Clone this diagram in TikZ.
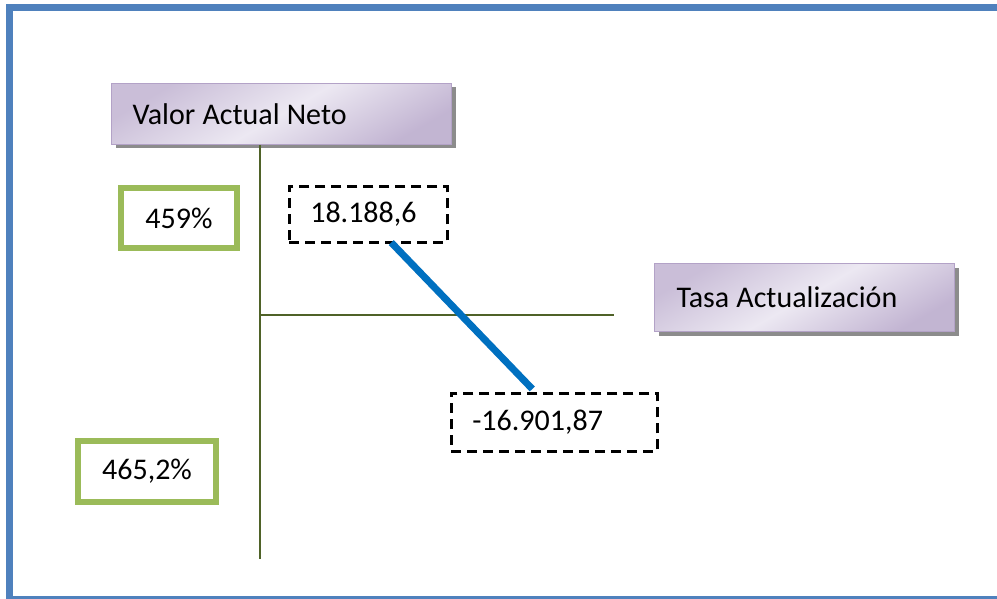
\documentclass[tikz,border=0pt]{standalone}
\usepackage{fontspec}
\setmainfont{Carlito}
\usetikzlibrary{positioning,shadows}

\definecolor{frameblue}{HTML}{4F81BD}
\definecolor{axisgreen}{HTML}{4F6228}
\definecolor{boxgreen}{HTML}{9BBB59}
\definecolor{lineblue}{HTML}{0070C0}
\definecolor{lilac}{HTML}{B3A2C7}
\definecolor{lilaclight}{HTML}{ECE8F2}

\tikzset{
    boxfont/.style={font=\fontsize{30}{34}\selectfont,
        execute at begin node={\spaceskip=0.24em\relax}},
    titlebox/.style={draw=lilac,line width=1pt,
        left color=lilac!70,right color=lilac!80,middle color=lilaclight,
        shading angle=30,
        drop shadow={shadow xshift=4pt,shadow yshift=-4pt,fill=black!45,opacity=1},
        anchor=north west,align=left,inner xsep=21pt,boxfont},
    valuebox/.style={draw=black,line width=2.6pt,dash pattern=on 10pt off 6pt,
        anchor=north west,align=left,inner xsep=21pt,boxfont},
    ratebox/.style={draw=boxgreen,line width=6pt,anchor=north west,
        align=center,inner sep=0pt,boxfont},
    axis/.style={axisgreen,line width=1.5pt}
}

\begin{document}
\begin{tikzpicture}[x=1pt,y=-1pt]
    \useasboundingbox (0,0) rectangle (997,599);
    % marco
    \fill[frameblue] (6,4.5) rectangle (997,11.5);
    \fill[frameblue] (6,4.5) rectangle (12.5,599);
    \fill[frameblue] (6,596) rectangle (997,599);

    % cajas de titulo
    \node[titlebox,minimum width=340pt,minimum height=61pt,text width=298pt] (van) at (111,83) {Valor Actual Neto};
    \node[titlebox,minimum width=300pt,minimum height=68pt,text width=256pt] (tasa) at (654,263) {Tasa Actualización};

    % tasas
    \node[ratebox,minimum width=116pt,minimum height=60pt] (r1) at (118,185) {459\%};
    \node[ratebox,minimum width=138pt,minimum height=61pt] (r2) at (75,438) {465,2\%};

    % valores
    \node[valuebox,minimum width=158pt,minimum height=56pt,text width=116pt] (v1) at (288,185) {18.188,6};
    \node[valuebox,minimum width=206pt,minimum height=58pt,text width=164pt] (v2) at (450,392) {-16.901,87};

    % ejes
    \coordinate (ytop) at (260,145);
    \coordinate (ybot) at (260,559);
    \coordinate (xleft) at (259,315);
    \coordinate (xright) at (614,315);
    \draw[axis] (ytop) -- (ybot);
    \draw[axis] (xleft) -- (xright);

    % recta
    \draw[lineblue,line width=7pt] ([xshift=23pt,yshift=1pt]v1.south) -- ([xshift=-22pt,yshift=3pt]v2.north);
\end{tikzpicture}
\end{document}
